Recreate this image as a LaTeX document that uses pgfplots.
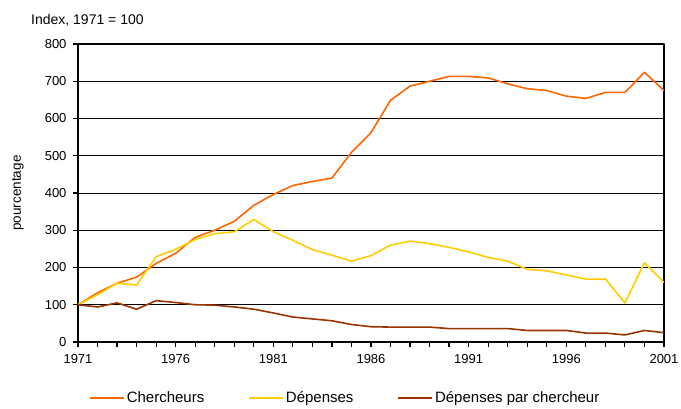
\documentclass[border=0pt]{standalone}
\usepackage{fontspec}
\setmainfont{Liberation Sans}
\usepackage{pgfplots}
\pgfplotsset{compat=1.18}
\definecolor{cOrange}{RGB}{255,102,0}
\definecolor{cYellow}{RGB}{255,204,0}
\definecolor{cBrown}{RGB}{153,51,0}
\begin{document}
\begin{tikzpicture}[x=1pt,y=1pt]
\path[use as bounding box] (-78,-66) rectangle (603,342);
\begin{axis}[
  at={(0,0)}, anchor=origin,
  scale only axis, width=586pt, height=298pt,
  xmin=1971, xmax=2001, ymin=0, ymax=800,
  xtick={1971,1976,...,2001}, minor xtick={1971,...,2001},
  ytick={0,100,...,800},
  /pgf/number format/1000 sep={},
  /pgf/number format/assume math mode=true,
  xtick pos=bottom, ytick pos=left,
  tick align=outside,
  major tick length=5pt, minor tick length=5pt,
  tick style={black, line width=1.2pt},
  axis line style={black, line width=2pt},
  ymajorgrids, grid style={black, line width=1pt},
  ticklabel style={font=\fontsize{13}{14}\selectfont},
  xticklabel style={yshift=-4pt},
  yticklabel style={xshift=-3pt},
  legend columns=3,
  legend style={draw=none, fill=none, at={(8pt,-56pt)}, anchor=west,
    font=\fontsize{15}{17}\selectfont,
    /tikz/every even column/.append style={column sep=42pt}},
  legend image code/.code={\draw[#1] (0pt,0pt) -- (34pt,0pt);},
  line join=round,
]
\addplot[cOrange, line width=1.6pt] coordinates {
(1971,100)(1972,132)(1973,158)(1974,174)(1975,211)(1976,238)(1977,281)(1978,300)
(1979,324)(1980,367)(1981,396)(1982,420)(1983,431)(1984,440)(1985,509)(1986,562)
(1987,649)(1988,687)(1989,700)(1990,713)(1991,713)(1992,709)(1993,693)(1994,680)
(1995,675)(1996,660)(1997,654)(1998,670)(1999,670)(2000,724)(2001,675)};
\addlegendentry{Chercheurs}
\addplot[cYellow, line width=1.6pt] coordinates {
(1971,100)(1972,127)(1973,158)(1974,153)(1975,229)(1976,249)(1977,275)(1978,291)
(1979,296)(1980,329)(1981,296)(1982,273)(1983,248)(1984,233)(1985,217)(1986,232)
(1987,260)(1988,271)(1989,264)(1990,254)(1991,242)(1992,227)(1993,217)(1994,195)
(1995,191)(1996,180)(1997,169)(1998,169)(1999,105)(2000,213)(2001,160)};
\addlegendentry{Dépenses}
\addplot[cBrown, line width=1.6pt] coordinates {
(1971,100)(1972,94)(1973,105)(1974,88)(1975,111)(1976,106)(1977,100)(1978,99)
(1979,94)(1980,88)(1981,78)(1982,67)(1983,62)(1984,57)(1985,47)(1986,41)
(1987,40)(1988,40)(1989,40)(1990,36)(1991,36)(1992,36)(1993,36)(1994,31)
(1995,31)(1996,31)(1997,24)(1998,24)(1999,19)(2000,31)(2001,25)};
\addlegendentry{Dépenses par chercheur}
\end{axis}
\node[anchor=west, font=\fontsize{14}{16}\selectfont, inner sep=0pt] at (-47,322) {Index, 1971 = 100};
\node[rotate=90, font=\fontsize{13.5}{15}\selectfont, inner sep=0pt] at (-60,149) {pourcentage};
\end{tikzpicture}
\end{document}
